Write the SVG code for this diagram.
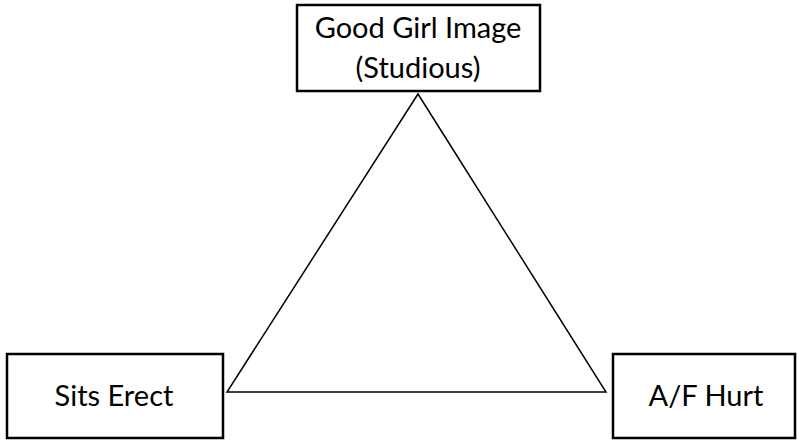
<svg xmlns="http://www.w3.org/2000/svg" width="797" height="440" viewBox="0 0 797 440">
<style>
.box{fill:#fff;stroke:#000;stroke-width:2.5}
.t{font-family:Lato,"Open Sans",sans-serif;font-size:29px;fill:#000;text-anchor:middle}
.edge{fill:none;stroke:#000;stroke-width:1.5}
</style>
<rect width="797" height="440" fill="#fff"/>
<g id="connectors">
<polygon class="edge" points="418,94 227,392 606,392"/>
</g>
<g id="node-top">
<rect class="box" x="297" y="5" width="243" height="86"/>
<text class="t" x="418" y="38">Good Girl Image</text>
<text class="t" x="418" y="78">(Studious)</text>
</g>
<g id="node-left">
<rect class="box" x="7" y="354" width="216" height="84"/>
<text class="t" x="114" y="406">Sits Erect</text>
</g>
<g id="node-right">
<rect class="box" x="613" y="354" width="182" height="84"/>
<text class="t" x="706" y="406">A/F Hurt</text>
</g>
</svg>
